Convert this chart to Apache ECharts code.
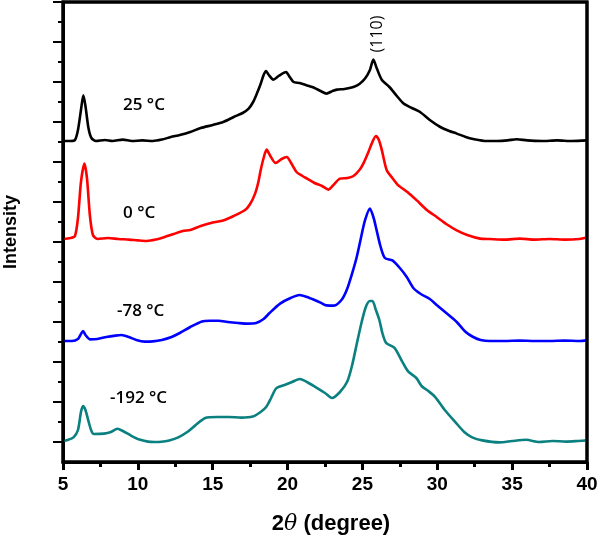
<!DOCTYPE html>
<html>
<head>
<meta charset="utf-8">
<script src="https://cdn.jsdelivr.net/npm/echarts@6/dist/echarts.min.js"></script>
<style>html,body{margin:0;padding:0;background:#fff}#c{width:600px;height:542px}</style>
</head>
<body>
<div id="c"></div>
<script>
// ---- data (2θ in degrees, offset intensity in arbitrary units) ----
const seriesNames = ['25 °C', '0 °C', '-78 °C', '-192 °C'];
const seriesColors = ['#000000', '#ff0000', '#0000ff', '#0b8080'];
const xTicks = [5, 10, 15, 20, 25, 30, 35, 40];
const yMajorTicks = [1, 3, 5, 7, 9, 11, 13, 15, 17, 19, 21, 23];
const yMinorTicks = [2, 4, 6, 8, 10, 12, 14, 16, 18, 20, 22];
const yRange = [0, 23];

const data25 = [[5.0,16.05],[5.5,16.05],[5.8,16.1],[6.0,16.6],[6.2,17.6],[6.36,18.33],[6.5,17.8],[6.7,16.7],[6.9,16.2],[7.2,16.05],[7.8,16.1],[8.3,16.05],[9.0,16.12],[9.6,16.05],[10.3,16.08],[11.0,16.05],[11.6,16.12],[12.2,16.25],[12.8,16.35],[13.5,16.5],[14.2,16.7],[15.0,16.85],[15.7,17.0],[16.4,17.25],[17.0,17.45],[17.4,17.67],[17.7,18.0],[17.95,18.42],[18.2,18.9],[18.4,19.35],[18.56,19.55],[18.75,19.35],[19.05,19.12],[19.4,19.3],[19.9,19.5],[20.1,19.3],[20.4,19.0],[20.8,18.95],[21.3,18.83],[21.8,18.7],[22.2,18.55],[22.6,18.42],[23.0,18.55],[23.3,18.62],[23.8,18.65],[24.4,18.75],[24.8,18.9],[25.2,19.2],[25.5,19.6],[25.73,20.12],[25.95,19.7],[26.3,19.1],[26.8,18.75],[27.3,18.3],[27.75,17.92],[28.3,17.7],[28.85,17.5],[29.5,17.1],[30.2,16.75],[30.8,16.55],[31.3,16.42],[31.9,16.25],[32.4,16.15],[33.3,16.05],[34.0,16.05],[34.7,16.08],[35.3,16.14],[36.0,16.08],[37.0,16.05],[38.0,16.08],[39.0,16.05],[40.0,16.08]];

const data0 = [[5.0,11.15],[5.5,11.2],[5.8,11.3],[6.0,12.2],[6.2,14.0],[6.43,14.92],[6.6,14.2],[6.8,12.3],[7.0,11.35],[7.3,11.15],[8.0,11.2],[8.7,11.15],[9.4,11.12],[10.0,11.08],[10.6,11.05],[11.2,11.12],[11.8,11.25],[12.4,11.4],[13.0,11.55],[13.5,11.6],[14.2,11.8],[15.0,11.97],[15.7,12.08],[16.4,12.3],[17.16,12.6],[17.5,12.9],[17.83,13.42],[18.05,14.0],[18.2,14.58],[18.4,15.2],[18.6,15.62],[18.85,15.3],[19.2,14.95],[19.6,15.15],[19.94,15.25],[20.2,15.0],[20.6,14.5],[21.0,14.3],[21.3,14.17],[21.8,13.95],[22.3,13.8],[22.73,13.62],[23.0,13.8],[23.5,14.17],[24.0,14.2],[24.4,14.3],[24.8,14.6],[25.06,14.92],[25.4,15.5],[25.62,15.92],[25.9,16.3],[26.1,16.1],[26.3,15.58],[26.62,14.6],[27.0,14.2],[27.4,13.83],[28.0,13.5],[28.63,13.08],[29.3,12.6],[29.96,12.25],[30.6,11.9],[31.3,11.58],[32.0,11.35],[32.86,11.17],[33.5,11.15],[34.5,11.12],[35.5,11.17],[36.5,11.12],[37.5,11.15],[38.5,11.12],[39.5,11.15],[40.0,11.22]];

const dataM78 = [[5.0,6.05],[5.6,6.05],[6.0,6.15],[6.2,6.4],[6.34,6.55],[6.5,6.35],[6.8,6.13],[7.3,6.15],[7.9,6.25],[8.5,6.32],[8.9,6.35],[9.4,6.25],[9.9,6.1],[10.44,6.02],[11.0,6.03],[11.6,6.1],[12.25,6.25],[12.8,6.45],[13.5,6.75],[14.28,7.03],[14.8,7.06],[15.4,7.06],[16.0,7.0],[16.7,6.95],[17.3,6.92],[17.9,6.95],[18.4,7.15],[18.8,7.45],[19.5,7.92],[20.2,8.2],[20.8,8.35],[21.3,8.25],[21.8,8.1],[22.2,7.97],[22.6,7.83],[23.1,7.82],[23.6,8.1],[23.95,8.6],[24.3,9.4],[24.62,10.25],[24.9,11.2],[25.17,12.08],[25.5,12.67],[25.75,12.2],[25.95,11.58],[26.2,10.8],[26.5,10.2],[27.0,10.08],[27.5,9.7],[27.96,9.25],[28.4,8.7],[28.9,8.4],[29.5,8.15],[29.96,7.85],[30.6,7.45],[31.3,7.0],[31.9,6.5],[32.4,6.25],[32.9,6.1],[33.5,6.05],[34.5,6.05],[35.5,6.07],[36.5,6.05],[37.5,6.05],[38.5,6.07],[39.5,6.05],[40.0,6.08]];

const dataM192 = [[5.0,1.05],[5.3,1.1],[5.7,1.23],[6.0,1.6],[6.2,2.5],[6.34,2.8],[6.5,2.6],[6.72,1.99],[6.9,1.55],[7.06,1.4],[7.73,1.42],[8.2,1.5],[8.63,1.66],[9.0,1.55],[9.54,1.32],[10.1,1.12],[10.67,1.02],[11.1,1.0],[11.57,1.01],[12.1,1.08],[12.7,1.23],[13.3,1.5],[13.82,1.82],[14.5,2.2],[15.3,2.25],[16.08,2.25],[16.9,2.22],[17.67,2.27],[18.2,2.5],[18.57,2.75],[18.9,3.2],[19.24,3.68],[19.8,3.85],[20.3,4.0],[20.82,4.15],[21.4,3.95],[21.95,3.71],[22.5,3.45],[22.97,3.2],[23.5,3.5],[23.98,4.01],[24.3,4.8],[24.66,6.04],[24.95,7.0],[25.22,7.74],[25.5,8.05],[25.67,8.05],[25.9,7.6],[26.13,7.1],[26.35,6.4],[26.58,5.96],[27.14,5.71],[27.6,5.1],[28.05,4.53],[28.6,4.2],[28.95,3.8],[29.4,3.55],[29.85,3.26],[30.5,2.6],[31.21,1.99],[31.8,1.5],[32.33,1.23],[33.0,1.08],[34.14,0.98],[35.0,1.05],[35.94,1.11],[36.8,1.0],[37.7,1.05],[38.6,1.02],[39.4,1.05],[40.0,1.08]];

const allData = [data25, data0, dataM78, dataM192];

// ---- layout ----
const GRID = {left: 63, top: 2, width: 524, height: 460};

// ---- chart ----
const chart = echarts.init(document.getElementById('c'));
const labelFont = '"Open Sans", "Noto Sans", sans-serif';
const axisFont = '"Liberation Sans", Arial, sans-serif';

const option = {
  animation: false,
  grid: {left: GRID.left, top: GRID.top, width: GRID.width, height: GRID.height,
         show: true, borderColor: '#000', borderWidth: 3, outerBoundsMode: 'none', containLabel: false},
  xAxis: {
    type: 'value', min: xTicks[0], max: xTicks[xTicks.length - 1], interval: 5,
    axisLine: {show: true, onZero: false, lineStyle: {color: '#000', width: 3}},
    axisTick: {show: true, length: 8, lineStyle: {color: '#000', width: 3}},
    minorTick: {show: true, splitNumber: 2, length: 5, lineStyle: {color: '#000', width: 3}},
    splitLine: {show: false},
    axisLabel: {color: '#000', fontSize: 19, fontWeight: 'bold', fontFamily: axisFont, margin: 13},
    name: '{n|2}{t|θ}{n| (degree)}',
    nameLocation: 'middle', nameGap: 51,
    nameTextStyle: {
      padding: [0, 0, 0, 12],
      rich: {
        n: {fontSize: 22, fontWeight: 'bold', fontFamily: axisFont, color: '#000'},
        t: {fontSize: 22, fontStyle: 'italic', fontFamily: '"DejaVu Serif", serif', color: '#000'}
      }
    }
  },
  yAxis: [
    {
      type: 'value', min: yRange[0], max: yRange[1],
      axisLine: {show: true, onZero: false, lineStyle: {color: '#000', width: 3}},
      axisTick: {show: true, length: 10, customValues: yMajorTicks, lineStyle: {color: '#000', width: 2}},
      axisLabel: {show: false}, splitLine: {show: false},
      name: 'Intensity', nameLocation: 'middle', nameGap: 43,
      nameTextStyle: {fontSize: 18, fontWeight: 'bold', fontFamily: axisFont, color: '#000'}
    },
    {
      type: 'value', position: 'left', offset: 0, min: yRange[0], max: yRange[1],
      axisLine: {show: false, onZero: false},
      axisTick: {show: true, length: 5, customValues: yMinorTicks, lineStyle: {color: '#000', width: 2}},
      axisLabel: {show: false}, splitLine: {show: false}
    }
  ],
  series: allData.map((d, i) => ({
    name: seriesNames[i], type: 'line', xAxisIndex: 0, yAxisIndex: 0,
    data: d, showSymbol: false, smooth: 0.25,
    lineStyle: {color: seriesColors[i], width: 2.6}
  })),
  graphic: [
    {type: 'rect', z: 100, silent: true,
     shape: {x: GRID.left, y: GRID.top, width: GRID.width, height: GRID.height},
     style: {fill: 'none', stroke: '#000', lineWidth: 3}},
    {type: 'text', left: 123, top: 97, style: {text: seriesNames[0], font: '600 17px ' + labelFont, fill: '#000'}},
    {type: 'text', left: 123, top: 205, style: {text: seriesNames[1], font: '600 17px ' + labelFont, fill: '#000'}},
    {type: 'text', left: 117, top: 303, style: {text: seriesNames[2], font: '600 17px ' + labelFont, fill: '#000'}},
    {type: 'text', left: 110, top: 390, style: {text: seriesNames[3], font: '600 17px ' + labelFont, fill: '#000'}},
    {type: 'text', x: 377, y: 34, rotation: Math.PI / 2,
     style: {text: '(110)', font: '400 16px ' + labelFont, fill: '#000', align: 'center', verticalAlign: 'middle'}}
  ]
};
chart.setOption(option);
</script>
</body>
</html>
